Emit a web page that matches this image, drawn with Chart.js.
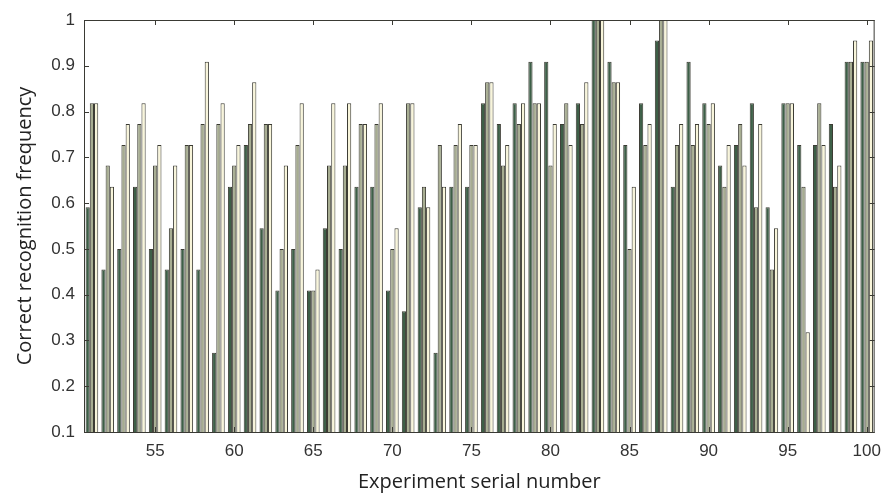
<!DOCTYPE html>
<html>
<head>
<meta charset="utf-8">
<script src="https://cdn.jsdelivr.net/npm/chart.js@4.4.1/dist/chart.umd.min.js"></script>
<style>
html,body{margin:0;padding:0;background:#fff;}
#wrap{width:890px;height:496px;}
</style>
</head>
<body>
<div id="wrap"><canvas id="c" width="890" height="496"></canvas></div>
<script>
// Experiment serial numbers 51..100
const experiments = [51,52,53,54,55,56,57,58,59,60,61,62,63,64,65,66,67,68,69,70,
  71,72,73,74,75,76,77,78,79,80,81,82,83,84,85,86,87,88,89,90,
  91,92,93,94,95,96,97,98,99,100];

// Correct recognition frequency, three bars per experiment
const seriesA = [0.591,0.455,0.5,0.636,0.5,0.455,0.5,0.455,0.273,0.636,
  0.727,0.545,0.409,0.5,0.409,0.545,0.5,0.636,0.636,0.409,
  0.364,0.591,0.273,0.636,0.636,0.818,0.773,0.818,0.909,0.909,
  0.773,0.818,1.0,0.909,0.727,0.818,0.955,0.636,0.909,0.818,
  0.682,0.727,0.818,0.591,0.818,0.727,0.727,0.773,0.909,0.909];
const seriesB = [0.818,0.682,0.727,0.773,0.682,0.545,0.727,0.773,0.773,0.682,
  0.773,0.773,0.5,0.727,0.409,0.682,0.682,0.773,0.773,0.5,
  0.818,0.636,0.727,0.727,0.727,0.864,0.682,0.773,0.818,0.682,
  0.818,0.773,1.0,0.864,0.5,0.727,1.0,0.727,0.727,0.773,
  0.636,0.773,0.591,0.455,0.818,0.636,0.818,0.636,0.909,0.909];
const seriesC = [0.818,0.636,0.773,0.818,0.727,0.682,0.727,0.909,0.818,0.727,
  0.864,0.773,0.682,0.818,0.455,0.818,0.818,0.773,0.818,0.545,
  0.818,0.591,0.636,0.773,0.727,0.864,0.727,0.818,0.818,0.773,
  0.727,0.864,1.0,0.864,0.636,0.773,1.0,0.773,0.773,0.818,
  0.727,0.682,0.773,0.545,0.818,0.318,0.727,0.682,0.955,0.955];

const yTicks = [0.1,0.2,0.3,0.4,0.5,0.6,0.7,0.8,0.9,1];

const frame = {
  id: 'frame',
  afterDatasetsDraw(chart) {
    const ctx = chart.ctx, a = chart.chartArea;
    const xs = chart.scales.x, ys = chart.scales.y;
    ctx.save();
    ctx.strokeStyle = '#3a3a34';
    ctx.lineWidth = 1;
    ctx.strokeRect(a.left + 0.5, a.top + 0.5, a.right - a.left - 1, a.bottom - a.top);
    ctx.beginPath();
    const L = 5;
    yTicks.forEach(v => {
      const y = Math.round(ys.getPixelForValue(v)) + 0.5;
      ctx.moveTo(a.left, y); ctx.lineTo(a.left + L, y);
      ctx.moveTo(a.right, y); ctx.lineTo(a.right - L, y);
    });
    experiments.forEach((e, i) => {
      if (e % 5 === 0) {
        const x = Math.round(xs.getPixelForValue(i)) + 0.5;
        ctx.moveTo(x, a.top); ctx.lineTo(x, a.top + L);
        ctx.moveTo(x, a.bottom); ctx.lineTo(x, a.bottom - L);
      }
    });
    ctx.stroke();
    ctx.restore();
  }
};

const border = '#3b3b33';
new Chart(document.getElementById('c'), {
  type: 'bar',
  data: {
    labels: experiments,
    datasets: [
      {data: seriesA, backgroundColor: '#3d5f47', borderColor: border, borderWidth: 1},
      {data: seriesB, backgroundColor: '#a7ad91', borderColor: border, borderWidth: 1},
      {data: seriesC, backgroundColor: '#f8f5da', borderColor: border, borderWidth: 1}
    ]
  },
  options: {
    responsive: false,
    devicePixelRatio: 1,
    animation: false,
    layout: {padding: {left: 0, right: 9, top: 20, bottom: 0}},
    datasets: {bar: {categoryPercentage: 0.8, barPercentage: 1.0, borderSkipped: 'bottom'}},
    plugins: {legend: {display: false}, tooltip: {enabled: false}},
    scales: {
      x: {
        grid: {display: false, drawTicks: false},
        border: {display: false},
        ticks: {
          autoSkip: false, maxRotation: 0, padding: 9,
          color: '#333', font: {family: 'Liberation Sans', size: 17},
          callback: (v, i) => (experiments[i] % 5 === 0 ? String(experiments[i]) : '')
        },
        title: {display: true, text: 'Experiment serial number', color: '#222',
          font: {family: 'Open Sans', size: 20}, padding: {top: 0, bottom: 2}},
        afterFit: s => { s.height = 64; }
      },
      y: {
        min: 0.1, max: 1,
        grid: {display: false, drawTicks: false},
        border: {display: false},
        afterBuildTicks: s => { s.ticks = yTicks.map(v => ({value: v})); },
        ticks: {
          padding: 9, color: '#333', font: {family: 'Liberation Sans', size: 17},
          callback: v => String(Math.round(v * 10) / 10)
        },
        title: {display: true, text: 'Correct recognition frequency', color: '#222',
          font: {family: 'Open Sans', size: 20}, padding: {top: 13, bottom: 0}},
        afterFit: s => { s.width = 84; }
      }
    }
  },
  plugins: [frame]
});
</script>
</body>
</html>
